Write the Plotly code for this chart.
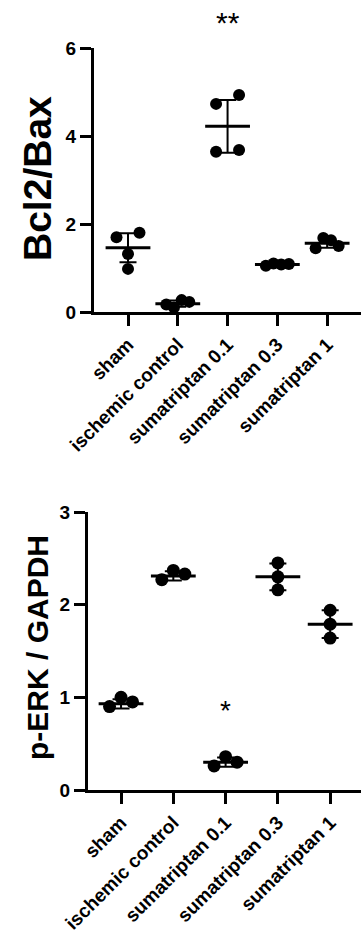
import plotly.graph_objects as go

categories = ["sham", "ischemic control", "sumatriptan 0.1", "sumatriptan 0.3", "sumatriptan 1"]

# Panel 1: Bcl2/Bax (individual animals)
bcl2_sham = [1.70, 1.80, 1.32, 0.98]
bcl2_ischemic = [0.17, 0.10, 0.27, 0.23]
bcl2_suma01 = [4.73, 4.93, 3.64, 3.68]
bcl2_suma03 = [1.05, 1.10, 1.08, 1.09]
bcl2_suma1 = [1.45, 1.68, 1.63, 1.50]
bcl2_mean = [1.46, 0.19, 4.22, 1.08, 1.56]
bcl2_sd = [0.33, 0.07, 0.60, 0.03, 0.10]
bcl2_ticks = [0, 2, 4, 6]

# Panel 2: p-ERK / GAPDH
perk_sham = [0.90, 1.00, 0.95]
perk_ischemic = [2.27, 2.37, 2.33]
perk_suma01 = [0.26, 0.36, 0.30]
perk_suma03 = [2.45, 2.30, 2.16]
perk_suma1 = [1.94, 1.79, 1.64]
perk_mean = [0.93, 2.31, 0.30, 2.30, 1.79]
perk_sd = [0.05, 0.05, 0.05, 0.145, 0.15]
perk_ticks = [0, 1, 2, 3]

W, H = 361, 936
FONT = "Liberation Sans"

# pixel layout of the two panels
P1 = dict(x0=94, x1=361, ytop=48, ybot=312, xr=[-0.683, 4.68], yr=[0, 6])
P2 = dict(x0=88, x1=361, ytop=512, ybot=790, xr=[-0.632, 4.59], yr=[0, 3])


def scales(p):
    px_x = (p["x1"] - p["x0"]) / (p["xr"][1] - p["xr"][0])
    px_y = (p["ybot"] - p["ytop"]) / (p["yr"][1] - p["yr"][0])
    return px_x, px_y


def swarm(vals, px_x, px_y, thresh=11.0, half=11.5):
    order = sorted(range(len(vals)), key=lambda i: vals[i])
    clusters = [[order[0]]]
    for a, b in zip(order, order[1:]):
        if (vals[b] - vals[a]) * px_y < thresh:
            clusters[-1].append(b)
        else:
            clusters.append([b])
    offs = [0.0] * len(vals)
    for c in clusters:
        c = sorted(c)
        n = len(c)
        for k, i in enumerate(c):
            offs[i] = 0.0 if n == 1 else (-half + 2 * half * k / (n - 1)) / px_x
    return offs


fig = go.Figure()


def add_panel(groups, means, sds, p, xa, ya, msize):
    px_x, px_y = scales(p)
    for gi, vals in enumerate(groups):
        offs = swarm(vals, px_x, px_y)
        fig.add_trace(go.Scatter(
            x=[gi + o for o in offs], y=vals, mode="markers",
            marker=dict(symbol="circle", size=msize, color="black"),
            xaxis=xa, yaxis=ya, cliponaxis=False, showlegend=False))
    fig.add_trace(go.Scatter(
        x=list(range(len(means))), y=means, mode="markers",
        marker=dict(symbol="line-ew", size=32, color="black",
                    line=dict(color="black", width=3)),
        error_y=dict(type="data", array=sds, visible=True, color="black",
                     thickness=2, width=8.5),
        xaxis=xa, yaxis=ya, cliponaxis=False, showlegend=False))


add_panel([bcl2_sham, bcl2_ischemic, bcl2_suma01, bcl2_suma03, bcl2_suma1],
          bcl2_mean, bcl2_sd, P1, "x", "y", 12)
add_panel([perk_sham, perk_ischemic, perk_suma01, perk_suma03, perk_suma1],
          perk_mean, perk_sd, P2, "x2", "y2", 13)

tickfont = dict(family=FONT, size=19, color="black", weight="bold")


def xaxis(p, anchor):
    return dict(domain=[p["x0"] / W, p["x1"] / W], range=p["xr"], anchor=anchor,
                tickmode="array", tickvals=list(range(len(categories))),
                ticktext=categories, tickangle=-45, ticks="outside",
                ticklen=11, tickwidth=2.5, tickcolor="black",
                showline=True, linecolor="black", linewidth=3, automargin=False,
                showgrid=False, zeroline=False, tickfont=tickfont)


def yaxis(p, anchor, tv):
    return dict(domain=[1 - p["ybot"] / H, 1 - p["ytop"] / H], range=p["yr"],
                anchor=anchor, tickmode="array", tickvals=tv, automargin=False,
                ticks="outside", ticklen=11, tickwidth=2.5, tickcolor="black",
                showline=True, linecolor="black", linewidth=3,
                showgrid=False, zeroline=False, tickfont=tickfont)


fig.update_layout(
    width=W, height=H, margin=dict(l=0, r=0, t=0, b=0, autoexpand=False),
    paper_bgcolor="white", plot_bgcolor="white",
    xaxis=xaxis(P1, "y"), yaxis=yaxis(P1, "x", bcl2_ticks),
    xaxis2=xaxis(P2, "y2"), yaxis2=yaxis(P2, "x2", perk_ticks),
    annotations=[
        dict(text="Bcl2/Bax", textangle=-90, xref="paper", yref="paper",
             x=37 / W, y=1 - 179 / H, xanchor="center", yanchor="middle",
             showarrow=False,
             font=dict(family=FONT, size=39, color="black", weight="bold")),
        dict(text="p-ERK / GAPDH", textangle=-90, xref="paper", yref="paper",
             x=37 / W, y=1 - 648 / H, xanchor="center", yanchor="middle",
             showarrow=False,
             font=dict(family=FONT, size=30, color="black", weight="bold")),
        dict(text="**", xref="x", yref="paper", x=2, y=1 - 22 / H,
             xanchor="center", yanchor="middle",
             showarrow=False, font=dict(family=FONT, size=30, color="black")),
        dict(text="*", xref="x2", yref="y2", x=2, y=0.86,
             xanchor="center", yanchor="middle",
             showarrow=False, font=dict(family=FONT, size=28, color="black")),
    ],
)

fig.write_html(
    "out.html",
    config={"displayModeBar": False},
    post_script="document.body.style.margin='0';document.body.style.overflow='hidden';",
)
